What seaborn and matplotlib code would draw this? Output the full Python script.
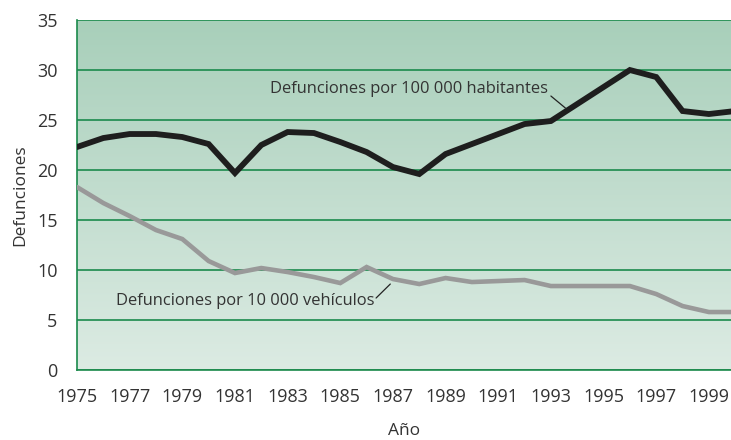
import numpy as np
import pandas as pd
import matplotlib
matplotlib.use("Agg")
import matplotlib.pyplot as plt
from matplotlib.colors import LinearSegmentedColormap
import seaborn as sns

years = list(range(1975, 2001))
por_habitantes = [22.3, 23.2, 23.6, 23.6, 23.3, 22.6, 19.7, 22.5, 23.8, 23.7,
                  22.8, 21.8, 20.3, 19.6, 21.6, 22.6, 23.6, 24.6, 24.9, 26.6,
                  28.3, 30.0, 29.3, 25.9, 25.6, 25.9]
por_vehiculos = [18.3, 16.7, 15.4, 14.0, 13.1, 10.9, 9.7, 10.2, 9.8, 9.3,
                 8.7, 10.3, 9.1, 8.6, 9.2, 8.8, 8.9, 9.0, 8.4, 8.4,
                 8.4, 8.4, 7.6, 6.4, 5.8, 5.8]
labels = ["Defunciones por 100 000 habitantes", "Defunciones por 10 000 vehículos"]
xticks = list(range(1975, 2000, 2))
yticks = list(range(0, 36, 5))

green = "#1b8a4c"
sns.set_theme(style="white")
plt.rcParams['font.family'] = ['Open Sans', 'DejaVu Sans']
plt.rcParams['text.color'] = '#333333'

df = pd.DataFrame({
    'Año': years * 2,
    'Defunciones': por_habitantes + por_vehiculos,
    'serie': [labels[0]] * len(years) + [labels[1]] * len(years),
})

fig, ax = plt.subplots(figsize=(7.31, 4.40), dpi=100)
fig.subplots_adjust(left=0.1053, right=1.0, top=0.9545, bottom=0.159)

# gradient background
cmap = LinearSegmentedColormap.from_list('bg', ['#dcebe3', '#a8cfba'])
grad = np.linspace(0, 1, 256).reshape(-1, 1)
ax.imshow(grad, extent=[0, 1, 0, 1], transform=ax.transAxes, aspect='auto',
          cmap=cmap, origin='lower', zorder=0)

sns.lineplot(data=df, x='Año', y='Defunciones', hue='serie',
             palette={labels[0]: '#1e1e1e', labels[1]: '#999999'},
             legend=False, ax=ax, zorder=3)
for line, lw in zip(ax.lines, [4.2, 3.3]):
    line.set_linewidth(lw)
    line.set_solid_joinstyle('miter')

ax.set_xlim(1975, 1999.84)
ax.set_ylim(0, 35)
ax.set_xticks(xticks)
ax.set_yticks(yticks)
ax.yaxis.grid(True, color=green, linewidth=1.2)
ax.xaxis.grid(False)
for s in ['top', 'right']:
    ax.spines[s].set_visible(False)
for s in ['left', 'bottom']:
    ax.spines[s].set_color(green)
    ax.spines[s].set_linewidth(1.2)
ax.tick_params(axis='both', length=11, width=1.2, color=green,
               labelsize=13, labelcolor='#333333', pad=2)
ax.tick_params(axis='y', pad=3)
ax.set_xlabel('Año', fontsize=12.5, color='#333333', labelpad=12)
ax.set_ylabel('Defunciones', fontsize=12.5, color='#333333', labelpad=6)

ax.text(1982.35, 28.1, labels[0], fontsize=11.9, color='#333333', va='center', zorder=4)
ax.plot([1993.0, 1993.55], [27.4, 26.2], color='#222222', lw=0.9, zorder=4)
ax.text(1976.5, 6.9, labels[1], fontsize=11.9, color='#333333', va='center', zorder=4)
ax.plot([1986.36, 1986.9], [7.2, 8.6], color='#222222', lw=0.9, zorder=4)

fig.savefig('out.png', dpi=100)
